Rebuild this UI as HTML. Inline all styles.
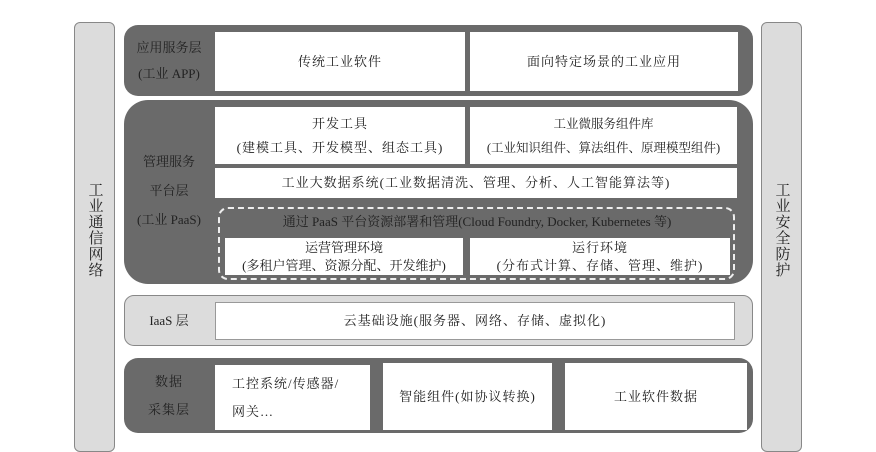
<!DOCTYPE html>
<html><head><meta charset="utf-8"><style>
*{margin:0;padding:0;box-sizing:border-box}
body{width:876px;height:437px;background:#fff;position:relative;overflow:hidden;font-family:"Liberation Serif","Noto Serif CJK SC","Noto Sans CJK SC",serif;color:#222}
.a{position:absolute}
.bar{background:#dcdcdc;border:1px solid #888;border-radius:6px}
.dark{background:#6a6a6a;border-radius:14px}
.w{background:#fff;display:flex;align-items:center;justify-content:center;text-align:center;font-size:13px;letter-spacing:1px;line-height:24px;white-space:nowrap}
.lbl{display:flex;align-items:center;justify-content:center;text-align:center;font-size:13px;letter-spacing:1px;line-height:26px;color:#222;white-space:nowrap}
.vt{writing-mode:vertical-rl;font-size:15px;letter-spacing:1px;line-height:20px}
</style></head><body>
<div class="a bar" style="left:74px;top:22px;width:41px;height:430px"></div>
<div class="a lbl vt" style="left:74px;top:170px;width:41px;height:120px">工业通信网络</div>
<div class="a bar" style="left:761px;top:22px;width:41px;height:430px"></div>
<div class="a lbl vt" style="left:761px;top:175px;width:41px;height:110px">工业安全防护</div>

<div class="a dark" style="left:124px;top:25px;width:629px;height:71px"></div>
<div class="a lbl" style="left:124px;top:30px;width:90px;height:62px;letter-spacing:0">应用服务层<br>(工业 APP)</div>
<div class="a w" style="left:215px;top:32px;width:250px;height:59px">传统工业软件</div>
<div class="a w" style="left:470px;top:32px;width:268px;height:59px">面向特定场景的工业应用</div>

<div class="a dark" style="left:124px;top:100px;width:629px;height:184px;border-radius:24px"></div>
<div class="a lbl" style="left:124px;top:150px;width:90px;height:80px;line-height:29px;letter-spacing:0">管理服务<br>平台层<br>(工业 PaaS)</div>
<div class="a w" style="left:215px;top:107px;width:250px;height:57px">开发工具<br>(建模工具、开发模型、组态工具)</div>
<div class="a w" style="left:470px;top:107px;width:267px;height:57px;letter-spacing:0;font-size:12.5px">工业微服务组件库<br>(工业知识组件、算法组件、原理模型组件)</div>
<div class="a w" style="left:215px;top:168px;width:522px;height:30px">工业大数据系统(工业数据清洗、管理、分析、人工智能算法等)</div>
<div class="a" style="left:218px;top:207px;width:517px;height:73px;border:2px dashed #eee;border-radius:10px"></div>
<div class="a lbl" style="left:222px;top:209px;width:510px;height:26px;font-size:13px;letter-spacing:0;color:#222">通过 PaaS 平台资源部署和管理(Cloud Foundry, Docker, Kubernetes 等)</div>
<div class="a w" style="left:225px;top:238px;width:238px;height:37px;line-height:18px;letter-spacing:0">运营管理环境<br>(多租户管理、资源分配、开发维护)</div>
<div class="a w" style="left:470px;top:238px;width:260px;height:37px;line-height:18px">运行环境<br>(分布式计算、存储、管理、维护)</div>

<div class="a" style="left:124px;top:295px;width:629px;height:51px;background:#dcdcdc;border:1px solid #888;border-radius:10px"></div>
<div class="a lbl" style="left:124px;top:295px;width:90px;height:51px;letter-spacing:0">IaaS 层</div>
<div class="a w" style="left:215px;top:302px;width:520px;height:38px;border:1px solid #999">云基础设施(服务器、网络、存储、虚拟化)</div>

<div class="a dark" style="left:124px;top:358px;width:629px;height:75px"></div>
<div class="a lbl" style="left:124px;top:365px;width:90px;height:62px;line-height:28px">数据<br>采集层</div>
<div class="a w" style="left:215px;top:365px;width:155px;height:65px;justify-content:flex-start;text-align:left;padding-left:17px;line-height:28px">工控系统/传感器/<br>网关…</div>
<div class="a w" style="left:383px;top:363px;width:169px;height:67px">智能组件(如协议转换)</div>
<div class="a w" style="left:565px;top:363px;width:182px;height:67px">工业软件数据</div>
</body></html>
